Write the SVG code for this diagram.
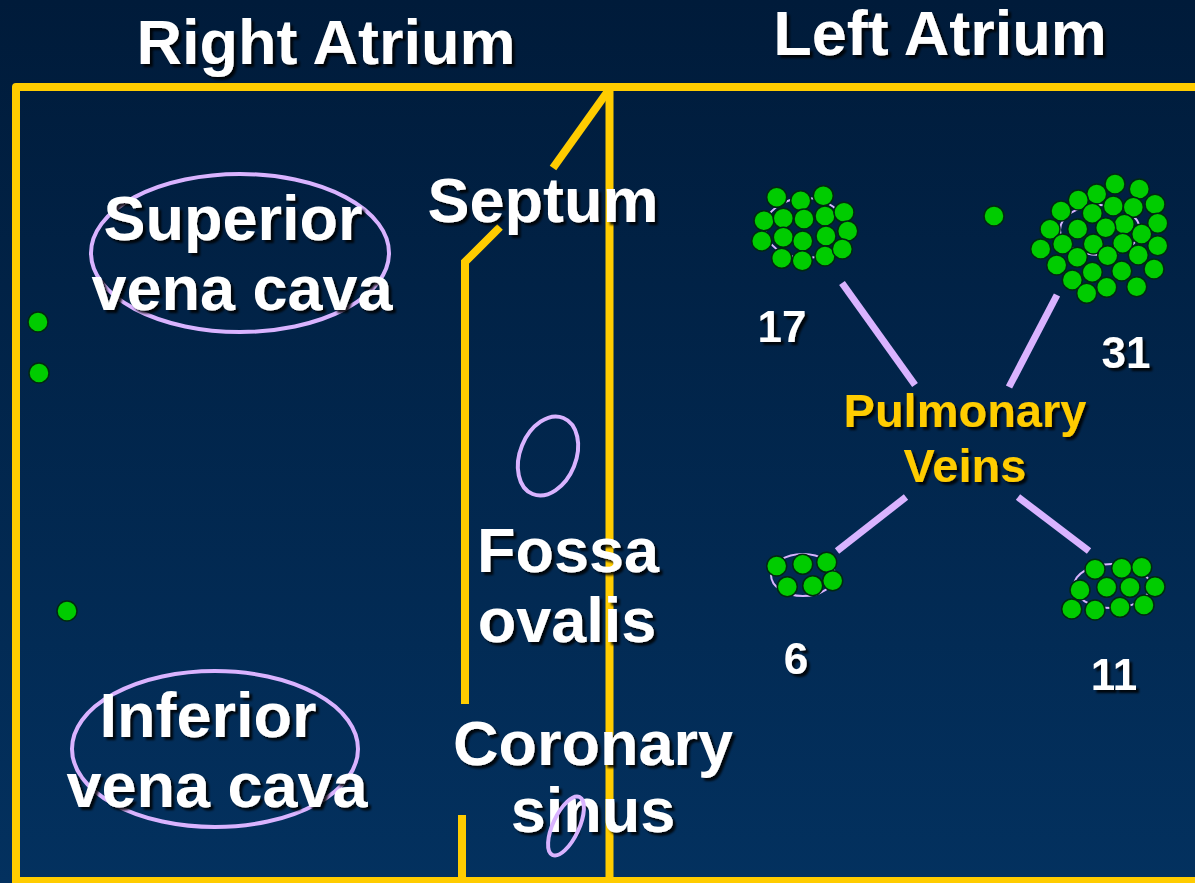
<svg xmlns="http://www.w3.org/2000/svg" width="1195" height="883" viewBox="0 0 1195 883">
<defs>
<linearGradient id="bg" x1="0" y1="0" x2="0" y2="1">
<stop offset="0" stop-color="#001b3a"/>
<stop offset="1" stop-color="#03315f"/>
</linearGradient>
<filter id="sh" x="-10%" y="-20%" width="130%" height="150%">
<feDropShadow dx="3" dy="3" stdDeviation="1.2" flood-color="#000000" flood-opacity="0.85"/>
</filter>
</defs>
<style>
.frame{fill:none;stroke:#FFCC00;stroke-width:8;stroke-linejoin:round}
.ylw{fill:none;stroke:#FFCC00;stroke-width:8}
.lav{fill:none;stroke:#D9B3FF;stroke-width:4}
.lavthin{fill:none;stroke:#D9B3FF;stroke-width:2}
.conn{stroke:#D9B3FF;stroke-width:7}
.t{font-family:"Liberation Sans",Arial,sans-serif;font-weight:bold;fill:#FFFFFF;text-anchor:middle;filter:url(#sh)}
.big{font-size:63px}
.num{font-size:44px}
.pv{font-size:47px;fill:#FFCC00}
.dot{fill:#00CC00;stroke:#002a10;stroke-width:1.5}
</style>
<rect x="0" y="0" width="1195" height="883" fill="url(#bg)"/>

<g id="frame">
<path class="frame" d="M16 883 V87 H1200"/>
<line class="ylw" x1="16" y1="881" x2="1200" y2="881"/>
<line class="ylw" x1="609.5" y1="87" x2="609.5" y2="883"/>
<line class="ylw" x1="608" y1="91" x2="553" y2="168"/>
<path class="ylw" d="M500 227 L465 262 V704"/>
<line class="ylw" x1="462" y1="815" x2="462" y2="883"/>
</g>

<g id="titles">
<text class="t big" x="326" y="64">Right Atrium</text>
<text class="t big" x="940" y="55">Left Atrium</text>
</g>

<g id="svc">
<ellipse class="lav" cx="240" cy="253" rx="149" ry="79"/>
<text class="t big" x="233" y="240">Superior</text>
<text class="t big" x="242" y="310">vena cava</text>
</g>

<g id="ivc">
<ellipse class="lav" cx="215" cy="749" rx="143" ry="78"/>
<text class="t big" x="208" y="737">Inferior</text>
<text class="t big" x="217" y="807">vena cava</text>
</g>

<g id="septum">
<text class="t big" x="543" y="222">Septum</text>
</g>

<g id="fossa">
<ellipse class="lav" cx="548" cy="456" rx="28" ry="41" transform="rotate(22 548 456)"/>
<text class="t big" x="568" y="572">Fossa</text>
<text class="t big" x="567" y="642">ovalis</text>
</g>

<g id="coronary">
<text class="t big" x="593" y="765">Coronary</text>
<text class="t big" x="593" y="832">sinus</text>
<ellipse class="lav" cx="566" cy="826" rx="13" ry="32" transform="rotate(25 566 826)"/>
</g>

<g id="dots-single">
<circle class="dot" cx="38" cy="322" r="10"/>
<circle class="dot" cx="39" cy="373" r="10"/>
<circle class="dot" cx="67" cy="611" r="10"/>
<circle class="dot" cx="994" cy="216" r="10"/>
</g>

<g id="connectors">
<line class="conn" x1="842" y1="283" x2="915" y2="385"/>
<line class="conn" x1="1057" y1="295" x2="1009" y2="387"/>
<line class="conn" x1="906" y1="497" x2="837" y2="551"/>
<line class="conn" x1="1018" y1="497" x2="1089" y2="551"/>
</g>

<g id="pulmonary">
<text class="t pv" x="965" y="427">Pulmonary</text>
<text class="t pv" x="965" y="482">Veins</text>
</g>

<g id="cluster17">
<ellipse class="lavthin" cx="805" cy="228" rx="40" ry="30"/>
<circle class="dot" cx="776.7" cy="197.3" r="10"/>
<circle class="dot" cx="800.7" cy="200.7" r="10"/>
<circle class="dot" cx="823.3" cy="195.7" r="10"/>
<circle class="dot" cx="764" cy="220.7" r="10"/>
<circle class="dot" cx="783.3" cy="218.3" r="10"/>
<circle class="dot" cx="804" cy="219" r="10"/>
<circle class="dot" cx="825" cy="216" r="10"/>
<circle class="dot" cx="844" cy="212.3" r="10"/>
<circle class="dot" cx="761.7" cy="241" r="10"/>
<circle class="dot" cx="783.3" cy="237.3" r="10"/>
<circle class="dot" cx="802.7" cy="241" r="10"/>
<circle class="dot" cx="826" cy="236" r="10"/>
<circle class="dot" cx="847.7" cy="231" r="10"/>
<circle class="dot" cx="781.7" cy="258.3" r="10"/>
<circle class="dot" cx="802.3" cy="260.7" r="10"/>
<circle class="dot" cx="825" cy="256" r="10"/>
<circle class="dot" cx="842.3" cy="249" r="10"/>
<text class="t num" x="782" y="342">17</text>
</g>

<g id="cluster31">
<ellipse class="lavthin" cx="1100" cy="230" rx="40" ry="25"/>
<circle class="dot" cx="1115" cy="184" r="10"/>
<circle class="dot" cx="1139.3" cy="189" r="10"/>
<circle class="dot" cx="1096.7" cy="194" r="10"/>
<circle class="dot" cx="1078.3" cy="200" r="10"/>
<circle class="dot" cx="1155" cy="204.3" r="10"/>
<circle class="dot" cx="1113.3" cy="206" r="10"/>
<circle class="dot" cx="1133.3" cy="207.3" r="10"/>
<circle class="dot" cx="1061" cy="211" r="10"/>
<circle class="dot" cx="1092.3" cy="213.3" r="10"/>
<circle class="dot" cx="1157.7" cy="223.3" r="10"/>
<circle class="dot" cx="1124.3" cy="224.3" r="10"/>
<circle class="dot" cx="1105.7" cy="227.7" r="10"/>
<circle class="dot" cx="1077.7" cy="229" r="10"/>
<circle class="dot" cx="1050" cy="229.3" r="10"/>
<circle class="dot" cx="1141.7" cy="234" r="10"/>
<circle class="dot" cx="1062.7" cy="244" r="10"/>
<circle class="dot" cx="1093.3" cy="244" r="10"/>
<circle class="dot" cx="1122.7" cy="243.3" r="10"/>
<circle class="dot" cx="1157.7" cy="245.7" r="10"/>
<circle class="dot" cx="1040.7" cy="249" r="10"/>
<circle class="dot" cx="1077.3" cy="257.3" r="10"/>
<circle class="dot" cx="1107.7" cy="255.7" r="10"/>
<circle class="dot" cx="1138.3" cy="255" r="10"/>
<circle class="dot" cx="1056.7" cy="265" r="10"/>
<circle class="dot" cx="1092.3" cy="272.3" r="10"/>
<circle class="dot" cx="1121.7" cy="271" r="10"/>
<circle class="dot" cx="1154" cy="269" r="10"/>
<circle class="dot" cx="1072.3" cy="280" r="10"/>
<circle class="dot" cx="1106.7" cy="287.3" r="10"/>
<circle class="dot" cx="1136.7" cy="286.7" r="10"/>
<circle class="dot" cx="1086.7" cy="293.3" r="10"/>
<text class="t num" x="1126" y="368">31</text>
</g>

<g id="cluster6">
<ellipse class="lavthin" cx="803" cy="575" rx="32" ry="21"/>
<circle class="dot" cx="776.7" cy="566" r="10"/>
<circle class="dot" cx="802.7" cy="564.3" r="10"/>
<circle class="dot" cx="826.7" cy="562.3" r="10"/>
<circle class="dot" cx="787.3" cy="586.7" r="10"/>
<circle class="dot" cx="812.7" cy="585.7" r="10"/>
<circle class="dot" cx="832.7" cy="580.7" r="10"/>
<text class="t num" x="796" y="674">6</text>
</g>

<g id="cluster11">
<ellipse class="lavthin" cx="1112" cy="586" rx="38" ry="22"/>
<circle class="dot" cx="1095" cy="569.3" r="10"/>
<circle class="dot" cx="1121.7" cy="568.3" r="10"/>
<circle class="dot" cx="1141.7" cy="567.3" r="10"/>
<circle class="dot" cx="1080" cy="590" r="10"/>
<circle class="dot" cx="1106.7" cy="587.3" r="10"/>
<circle class="dot" cx="1130" cy="587.3" r="10"/>
<circle class="dot" cx="1155" cy="586.7" r="10"/>
<circle class="dot" cx="1071.7" cy="609" r="10"/>
<circle class="dot" cx="1095" cy="610" r="10"/>
<circle class="dot" cx="1120" cy="607.3" r="10"/>
<circle class="dot" cx="1144" cy="605" r="10"/>
<text class="t num" x="1114" y="690">11</text>
</g>
</svg>
